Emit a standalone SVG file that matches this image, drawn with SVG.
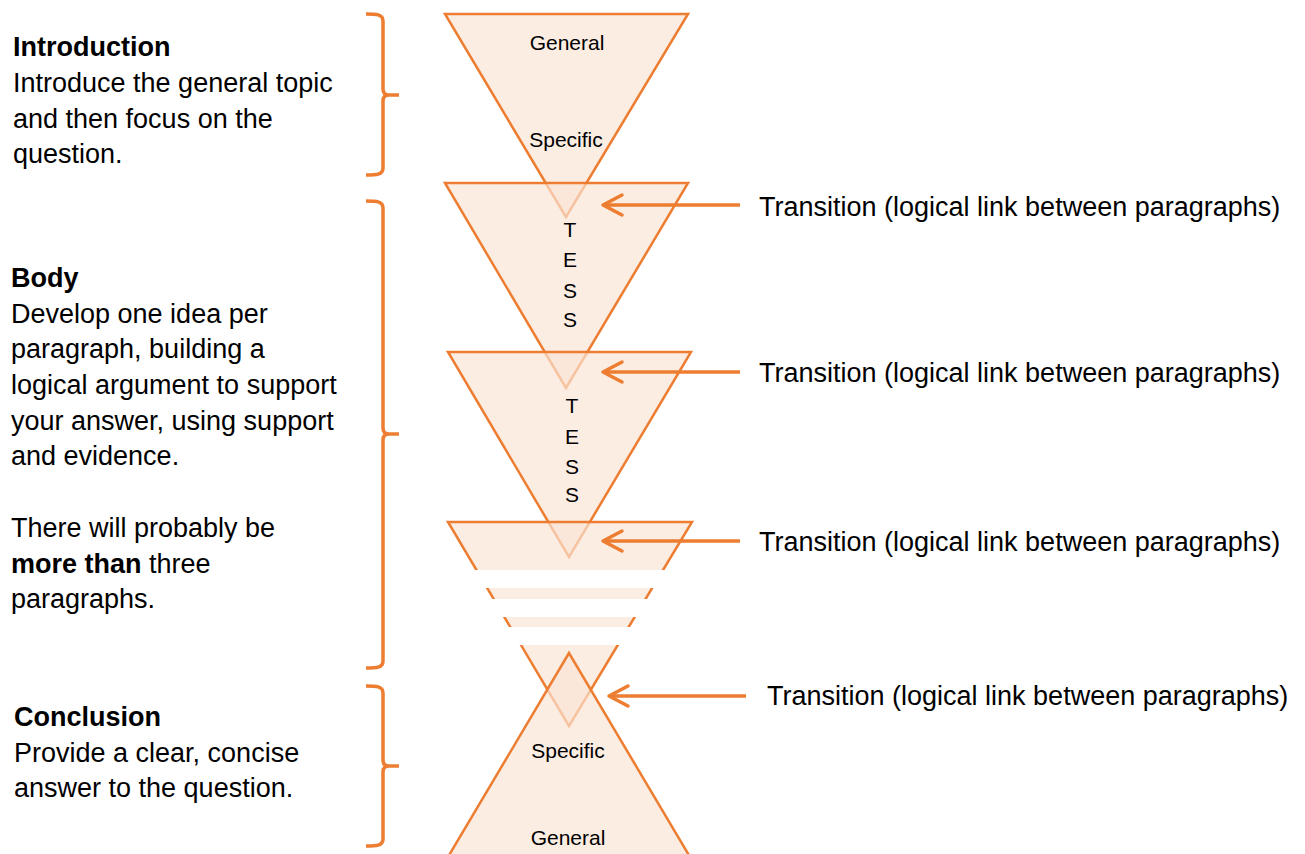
<svg xmlns="http://www.w3.org/2000/svg" width="1305" height="854" viewBox="0 0 1305 854">
  <style>
    .tri { fill: #fbe5d6; fill-opacity: 0.68; stroke: #ed7d31; stroke-width: 2.5; stroke-linejoin: miter; }
    .band { fill: #ffffff; }
    .brace { fill: none; stroke: #ed7d31; stroke-width: 3.5; stroke-linecap: butt; }
    .arrow { fill: none; stroke: #ed7d31; stroke-width: 3.5; marker-end: url(#chevron); }
    .txt { font-family: "Liberation Sans", Arial, sans-serif; font-size: 27px; fill: #000000; }
    .b { font-weight: bold; }
    .lbl { font-family: "Liberation Sans", Arial, sans-serif; font-size: 21px; fill: #000000; text-anchor: middle; }
  </style>
  <defs>
    <marker id="chevron" markerUnits="userSpaceOnUse" viewBox="-25 -15 30 30" markerWidth="30" markerHeight="30" refX="0" refY="0" orient="auto" overflow="visible">
      <path d="M-19,-10 L0,0 L-19,10" fill="none" stroke="#ed7d31" stroke-width="3.5" stroke-linecap="round" stroke-linejoin="round"/>
    </marker>
  </defs>
  <rect width="1305" height="854" fill="#ffffff"/>

  <!-- funnel: stacked inverted triangles -->
  <g id="intro-triangle">
    <polygon class="tri" points="445,14 688,14 566,217"/>
  </g>
  <g id="body-triangle-1">
    <polygon class="tri" points="445,183 688,183 566,388"/>
  </g>
  <g id="body-triangle-2">
    <polygon class="tri" points="448,352 691,352 569,557"/>
  </g>
  <g id="body-triangle-3">
    <polygon class="tri" points="448,522 692,522 569,726"/>
    <!-- gaps marking the omitted paragraphs -->
    <rect class="band" x="430" y="570" width="280" height="18"/>
    <rect class="band" x="430" y="599" width="280" height="18"/>
    <rect class="band" x="430" y="627" width="280" height="18"/>
  </g>
  <g id="conclusion-triangle">
    <polygon class="tri" points="569,653 448,857 690,857"/>
  </g>

  <!-- labels inside the funnel -->
  <g id="funnel-labels">
    <text class="lbl" x="567" y="50">General</text>
    <text class="lbl" x="566" y="147">Specific</text>
    <text class="lbl" x="570" y="237">T</text>
    <text class="lbl" x="570" y="267">E</text>
    <text class="lbl" x="570" y="298">S</text>
    <text class="lbl" x="570" y="327">S</text>
    <text class="lbl" x="572" y="413">T</text>
    <text class="lbl" x="572" y="444">E</text>
    <text class="lbl" x="572" y="474">S</text>
    <text class="lbl" x="572" y="502">S</text>
    <text class="lbl" x="568" y="758">Specific</text>
    <text class="lbl" x="568" y="845">General</text>
  </g>

  <!-- braces grouping the essay sections -->
  <g id="braces">
    <path class="brace" d="M366,14 C376,14 383,14 383,21 V89 Q383,95 389,95 H399 M389,95 Q383,95 383,101 V168 C383,175 376,175 366,175"/>
    <path class="brace" d="M366,201 C376,201 383,201 383,208 V428 Q383,434 389,434 H399 M389,434 Q383,434 383,440 V661 C383,668 376,668 366,668"/>
    <path class="brace" d="M366,686 C376,686 383,686 383,693 V760 Q383,766 389,766 H399 M389,766 Q383,766 383,772 V839 C383,846 376,846 366,846"/>
  </g>

  <!-- section descriptions -->
  <g id="introduction-text">
    <text class="txt b" x="13" y="56">Introduction</text>
    <text class="txt" x="13" y="92">Introduce the general topic</text>
    <text class="txt" x="13" y="127.5">and then focus on the</text>
    <text class="txt" x="13" y="163">question.</text>
  </g>
  <g id="body-text">
    <text class="txt b" x="11" y="287">Body</text>
    <text class="txt" x="11" y="322.5">Develop one idea per</text>
    <text class="txt" x="11" y="358">paragraph, building a</text>
    <text class="txt" x="11" y="394">logical argument to support</text>
    <text class="txt" x="11" y="429.5">your answer, using support</text>
    <text class="txt" x="11" y="465">and evidence.</text>
    <text class="txt" x="11" y="536.5">There will probably be</text>
    <text class="txt" x="11" y="572.5"><tspan class="b">more than</tspan> three</text>
    <text class="txt" x="11" y="608">paragraphs.</text>
  </g>
  <g id="conclusion-text">
    <text class="txt b" x="14" y="726">Conclusion</text>
    <text class="txt" x="14" y="761.5">Provide a clear, concise</text>
    <text class="txt" x="14" y="797">answer to the question.</text>
  </g>

  <!-- transition pointers -->
  <g id="connectors">
    <line class="arrow" x1="740" y1="205" x2="603" y2="205"/>
    <line class="arrow" x1="740" y1="372" x2="603" y2="372"/>
    <line class="arrow" x1="740" y1="541" x2="603" y2="541"/>
    <line class="arrow" x1="746" y1="696" x2="609" y2="696"/>
  </g>
  <g id="transition-labels">
    <text class="txt" x="759" y="216">Transition (logical link between paragraphs)</text>
    <text class="txt" x="759" y="382">Transition (logical link between paragraphs)</text>
    <text class="txt" x="759" y="551">Transition (logical link between paragraphs)</text>
    <text class="txt" x="767" y="705">Transition (logical link between paragraphs)</text>
  </g>
</svg>
